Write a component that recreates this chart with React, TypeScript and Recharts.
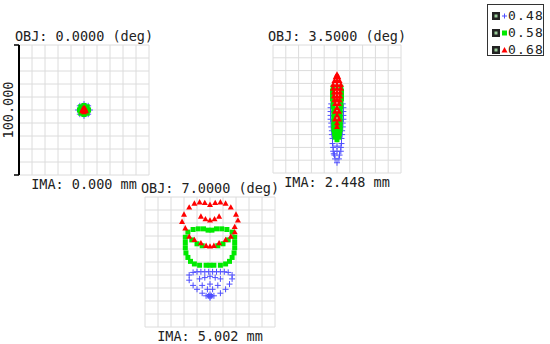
import React from "react";
import { ScatterChart, Scatter, XAxis, YAxis, ReferenceLine } from "recharts";

type Pt = { x: number; y: number };

// spot positions in micrometres, panel centre = (0, 0)
const gridTicks = [-50, -40, -30, -20, -10, 0, 10, 20, 30, 40, 50];

const wavelengths = ["0.48", "0.58", "0.68"];
const objLabels = ["OBJ: 0.0000 (deg)", "OBJ: 3.5000 (deg)", "OBJ: 7.0000 (deg)"];
const imaLabels = ["IMA: 0.000 mm", "IMA: 2.448 mm", "IMA: 5.002 mm"];
const scaleLabel = "100.000";

const blue0: Pt[] = [
  { x: 0, y: 4.5 }, { x: 3.2, y: 3.2 }, { x: 4.5, y: 0 }, { x: 3.2, y: -3.2 },
  { x: 0, y: -4.5 }, { x: -3.2, y: -3.2 }, { x: -4.5, y: 0 }, { x: -3.2, y: 3.2 },
];
const green0: Pt[] = [
  { x: 0, y: 3.5 }, { x: 2.5, y: 2.5 }, { x: 3.5, y: 0 }, { x: 2.5, y: -2.5 },
  { x: 0, y: -3.5 }, { x: -2.5, y: -2.5 }, { x: -3.5, y: 0 }, { x: -2.5, y: 2.5 },
];
const red0: Pt[] = [
  { x: 0, y: 1.8 }, { x: 1.5, y: -0.8 }, { x: -1.5, y: -0.8 }, { x: 0, y: 0 },
  { x: 0, y: -1.6 }, { x: 1, y: 0.6 }, { x: -1, y: 0.6 },
];

const blue1: Pt[] = [
  { x: -4.5, y: 4 }, { x: 4.5, y: 4 }, { x: -5, y: 1 }, { x: 5, y: 1 },
  { x: -5, y: -2 }, { x: 5, y: -2 }, { x: -5, y: -5 }, { x: 5, y: -5 },
  { x: -5, y: -8 }, { x: 5, y: -8 }, { x: -4.5, y: -11 }, { x: 4.5, y: -11 },
  { x: -4.5, y: -14 }, { x: 4.5, y: -14 }, { x: -4, y: -17 }, { x: 4, y: -17 },
  { x: -4, y: -20 }, { x: 4, y: -20 }, { x: -3.5, y: -23 }, { x: 3.5, y: -23 },
  { x: -3.5, y: -27 }, { x: 3.5, y: -27 }, { x: -3, y: -30 }, { x: 0, y: -29 },
  { x: 3, y: -30 }, { x: -3, y: -33 }, { x: 3, y: -33 }, { x: 0, y: -33 },
  { x: -2.5, y: -35 }, { x: -2, y: -36 }, { x: 2, y: -36 }, { x: -1.5, y: -39 },
  { x: 1.5, y: -39 }, { x: 0, y: -42 },
];
const green1: Pt[] = [
  { x: -3, y: 17 }, { x: 3, y: 17 }, { x: -3.5, y: 14 }, { x: 3.5, y: 14 },
  { x: -3.5, y: 11 }, { x: 3.5, y: 11 }, { x: -3.5, y: 8 }, { x: 3.5, y: 8 },
  { x: -3, y: 5 }, { x: 3, y: 5 }, { x: -3, y: 2 }, { x: 3, y: 2 },
  { x: -2.5, y: -1 }, { x: 2.5, y: -1 }, { x: -2.5, y: -4 }, { x: 2.5, y: -4 },
  { x: -2.5, y: -7 }, { x: 2.5, y: -7 }, { x: -2.5, y: -10 }, { x: 2.5, y: -10 },
  { x: -2.5, y: -13 }, { x: 0, y: -13 }, { x: 2.5, y: -13 }, { x: -2.5, y: -16 },
  { x: 0, y: -16 }, { x: 2.5, y: -16 }, { x: -2, y: -19 }, { x: 0, y: -19 },
  { x: 2, y: -19 }, { x: -1.5, y: -22 }, { x: 1.5, y: -22 }, { x: 0, y: -24 },
];
const red1: Pt[] = [
  { x: 0, y: 27 }, { x: -1, y: 25 }, { x: 1, y: 25 }, { x: -2, y: 22 },
  { x: 0, y: 22 }, { x: 2, y: 22 }, { x: -3, y: 19 }, { x: 0, y: 19 },
  { x: 3, y: 19 }, { x: -3, y: 16 }, { x: 0, y: 16 }, { x: 3, y: 16 },
  { x: -2.5, y: 13 }, { x: 0, y: 13 }, { x: 2.5, y: 13 }, { x: -2.5, y: 10 },
  { x: 0, y: 10 }, { x: 2.5, y: 10 }, { x: -2, y: 7 }, { x: 0, y: 7 },
  { x: 2, y: 7 }, { x: -1.5, y: 4 }, { x: 1.5, y: 4 }, { x: 0, y: 1 },
  { x: -1.5, y: -2 }, { x: 1.5, y: -2 }, { x: 0, y: -5 }, { x: -1.5, y: -8 },
  { x: 1.5, y: -8 }, { x: 0, y: -11 }, { x: 0, y: -14 },
];

const blue2: Pt[] = [
  { x: -13, y: -8 }, { x: -10, y: -7.5 }, { x: -7, y: -7.5 }, { x: -4, y: -7.5 },
  { x: -1, y: -7.5 }, { x: 2, y: -7.5 }, { x: 5, y: -7.5 }, { x: 8, y: -7.5 },
  { x: 11, y: -7.5 }, { x: 14, y: -8 }, { x: -16, y: -10 }, { x: 17, y: -10 },
  { x: -16, y: -14 }, { x: 17, y: -13 }, { x: -13, y: -18 }, { x: 15, y: -17 },
  { x: -10, y: -21 }, { x: 12, y: -21 }, { x: -6, y: -24 }, { x: 8, y: -24 },
  { x: -3, y: -26 }, { x: 3, y: -26 }, { x: 0, y: -26.5 }, { x: 0, y: -25 },
  { x: -1, y: -26 }, { x: 1, y: -26 }, { x: 0, y: -27.5 }, { x: -8, y: -13 },
  { x: -4, y: -12 }, { x: 0, y: -11 }, { x: 4, y: -12 }, { x: 8, y: -13 },
  { x: -6, y: -18 }, { x: 0, y: -17 }, { x: 6, y: -18 }, { x: -2, y: -21 },
  { x: 2, y: -21 },
];
const green2: Pt[] = [
  { x: -13, y: 25 }, { x: -9, y: 25.5 }, { x: -5, y: 25.5 }, { x: -1.5, y: 24.5 },
  { x: 1.5, y: 24.5 }, { x: 5, y: 25.5 }, { x: 9, y: 25.5 }, { x: 13, y: 25 },
  { x: -17, y: 23 }, { x: 17, y: 23 }, { x: -19, y: 19 }, { x: 19, y: 19 },
  { x: -19, y: 15 }, { x: -19, y: 11 }, { x: -18.5, y: 7 }, { x: -17, y: 3.5 },
  { x: -15, y: 0.5 }, { x: -12, y: -1.5 }, { x: -8, y: -2.5 }, { x: 19, y: 15 },
  { x: 19, y: 11 }, { x: 18.5, y: 7 }, { x: 17, y: 3.5 }, { x: 15, y: 0.5 },
  { x: 12, y: -1.5 }, { x: 8, y: -2.5 }, { x: -3, y: -2.5 }, { x: 0, y: -2.5 },
  { x: 3, y: -2.5 }, { x: -14, y: 17 }, { x: -10, y: 14 }, { x: -6, y: 12.5 },
  { x: 6, y: 12.5 }, { x: 10, y: 14 }, { x: 14, y: 17 },
];
const red2: Pt[] = [
  { x: -12, y: 45 }, { x: -8, y: 46 }, { x: -4, y: 45.5 }, { x: 0, y: 44 },
  { x: 4, y: 45.5 }, { x: 8, y: 46 }, { x: 12, y: 45 }, { x: -16, y: 42 },
  { x: 16, y: 42 }, { x: -20, y: 36.5 }, { x: 20, y: 36.5 }, { x: -21.5, y: 31 },
  { x: 21.5, y: 32 }, { x: -7, y: 35 }, { x: -3.5, y: 33 }, { x: 0, y: 32 },
  { x: 3.5, y: 33 }, { x: 7, y: 35 }, { x: -19, y: 26 }, { x: 19, y: 27 },
  { x: -16, y: 19.5 }, { x: -12, y: 17 }, { x: -7, y: 14.5 }, { x: -3, y: 12.5 },
  { x: 0, y: 12 }, { x: 3, y: 12.5 }, { x: 7, y: 14.5 }, { x: 12, y: 17 },
  { x: 16, y: 19.5 }, { x: 19, y: 23 },
];

const BLUE = "#4d4dff";
const GREEN = "#00ea00";
const RED = "#ff0000";
const GRID = "#dcdcdc";
const MONO = "'DejaVu Sans Mono', monospace";

const Cross = ({ cx, cy }: any) => (
  <path d={`M${cx - 3},${cy}h6M${cx},${cy - 3}v6`} stroke={BLUE} strokeWidth={1} fill="none" />
);
const Square = ({ cx, cy }: any) => (
  <rect x={cx - 2.5} y={cy - 2.5} width={5} height={5} fill={GREEN} />
);
const Tri = ({ cx, cy }: any) => (
  <path d={`M${cx},${cy - 3.2}L${cx + 3},${cy + 2.2}L${cx - 3},${cy + 2.2}Z`} fill={RED} />
);

type PanelProps = {
  left: number;
  top: number;
  size: number;
  blue: Pt[];
  green: Pt[];
  red: Pt[];
  obj: string;
  ima: string;
  scale?: boolean;
};

const textStyle: React.CSSProperties = {
  position: "absolute", textAlign: "center", fontFamily: MONO, fontSize: 13.5,
  lineHeight: "14px", color: "#222", whiteSpace: "nowrap",
};

const Panel = ({ left, top, size, blue, green, red, obj, ima, scale }: PanelProps) => {
  const axisW = scale ? 19 : 0;
  const m = 4;
  return (
    <>
      <div style={{ ...textStyle, left: left - 20, top: top - 16, width: size + 40 }}>{obj}</div>
      <div style={{ ...textStyle, left: left - 20, top: top + size + 2, width: size + 40 }}>{ima}</div>
      <div style={{ position: "absolute", left: left - axisW - (scale ? 0 : m), top: top - m }}>
        <ScatterChart
          width={size + axisW + m + (scale ? 0 : m)}
          height={size + 2 * m}
          margin={{ top: m, right: m, bottom: m, left: scale ? 0 : m }}
        >
          <XAxis type="number" dataKey="x" domain={[-50, 50]} hide allowDataOverflow />
          <YAxis
            type="number"
            dataKey="y"
            domain={[-50, 50]}
            hide={!scale}
            width={axisW}
            ticks={[-50, 50]}
            tick={{ fill: "none" }}
            tickFormatter={() => ""}
            tickSize={5}
            tickLine={{ stroke: "#000", strokeWidth: 1.5 }}
            axisLine={{ stroke: "#000", strokeWidth: 2 }}
            allowDataOverflow
            label={
              scale
                ? { value: scaleLabel, angle: -90, position: "center", dx: -1, style: { fontFamily: MONO, fontSize: 13.5, fill: "#222" } }
                : undefined
            }
          />
          {gridTicks.map((t) => (
            <ReferenceLine key={`v${t}`} x={t} stroke={GRID} strokeWidth={1} />
          ))}
          {gridTicks.map((t) => (
            <ReferenceLine key={`h${t}`} y={t} stroke={GRID} strokeWidth={1} />
          ))}
          <Scatter data={blue} shape={Cross} isAnimationActive={false} />
          <Scatter data={green} shape={Square} isAnimationActive={false} />
          <Scatter data={red} shape={Tri} isAnimationActive={false} />
        </ScatterChart>
      </div>
    </>
  );
};

const legendIcons = [
  <path key="b" d="M1,6h5M3.5,3.5v5" stroke={BLUE} strokeWidth={1} />,
  <rect key="g" x={1} y={3.5} width={5} height={5} fill={GREEN} />,
  <path key="r" d="M3.5,3L6.5,8.5L0.5,8.5Z" fill={RED} />,
];

const LegendBox = () => (
  <div
    style={{
      position: "absolute", left: 487, top: 4, width: 57, height: 52, boxSizing: "border-box",
      border: "1px solid #333", background: "#fff",
    }}
  >
    {wavelengths.map((w, i) => (
      <div key={w} style={{ position: "absolute", left: 4, top: 3 + i * 17, height: 16, display: "flex", alignItems: "center" }}>
        <svg width={8} height={8} style={{ marginRight: 1 }}>
          <rect x={0.5} y={0.5} width={7} height={7} fill="#222" stroke="#222" />
          <rect x={2.5} y={2.5} width={3} height={3} fill="#9c9" />
        </svg>
        <svg width={7} height={12}>{legendIcons[i]}</svg>
        <span style={{ fontFamily: MONO, fontSize: 13, letterSpacing: 1.2, color: "#222", lineHeight: "16px" }}>{w}</span>
      </div>
    ))}
  </div>
);

export default function App() {
  return (
    <div style={{ position: "absolute", left: 0, top: 0, width: 550, height: 344, background: "#fff", overflow: "hidden" }}>
      <Panel left={19} top={45} size={130} blue={blue0} green={green0} red={red0} obj={objLabels[0]} ima={imaLabels[0]} scale />
      <Panel left={273} top={45} size={128} blue={blue1} green={green1} red={red1} obj={objLabels[1]} ima={imaLabels[1]} />
      <Panel left={145} top={197} size={130} blue={blue2} green={green2} red={red2} obj={objLabels[2]} ima={imaLabels[2]} />
      <LegendBox />
    </div>
  );
}
